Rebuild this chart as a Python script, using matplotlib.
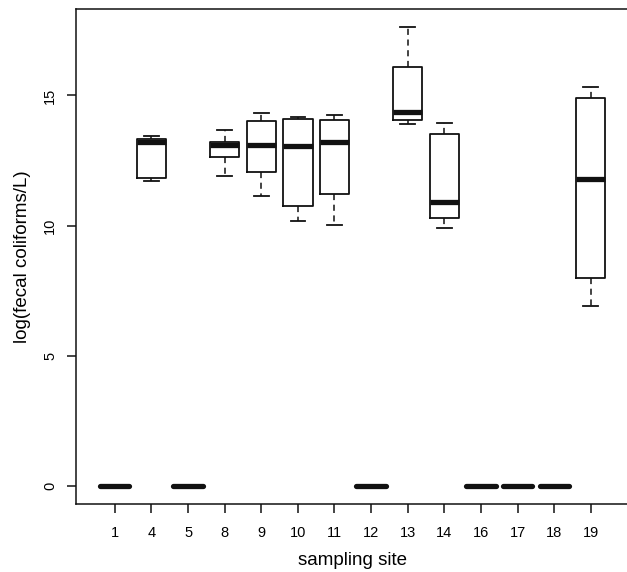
import numpy as np
import matplotlib.pyplot as plt

plt.rcParams['font.family'] = ['Liberation Sans', 'DejaVu Sans']

# sampling sites and five-number summaries of log(fecal coliforms/L)
sites = ['1', '4', '5', '8', '9', '10', '11', '12', '13', '14', '16', '17', '18', '19']
whislo = [0, 11.71, 0, 11.90, 11.14, 10.19, 10.04, 0, 13.90, 9.90, 0, 0, 0, 6.92]
q1 = [0, 11.83, 0, 12.62, 12.06, 10.75, 11.20, 0, 14.05, 10.30, 0, 0, 0, 8.00]
med = [0, 13.20, 0, 13.08, 13.11, 13.07, 13.22, 0, 14.38, 10.91, 0, 0, 0, 11.78]
q3 = [0, 13.32, 0, 13.20, 14.03, 14.08, 14.04, 0, 16.10, 13.51, 0, 0, 0, 14.90]
whishi = [0, 13.43, 0, 13.69, 14.33, 14.19, 14.26, 0, 17.62, 13.96, 0, 0, 0, 15.33]

stats = []
for i, s in enumerate(sites):
    stats.append({'label': s, 'whislo': whislo[i], 'q1': q1[i], 'med': med[i],
                  'q3': q3[i], 'whishi': whishi[i], 'fliers': []})

fig = plt.figure(figsize=(6.27, 5.72), dpi=100)
ax = fig.add_axes([76 / 627, 68 / 572, 553.6 / 627, 495 / 572])

positions = np.arange(1, len(sites) + 1)
parts = ax.bxp(stats, positions=positions, widths=0.8, showfliers=False,
               boxprops=dict(color='#111111', linewidth=1.3),
               whiskerprops=dict(color='#111111', linewidth=1.1, linestyle=(0, (4, 3))),
               capprops=dict(color='#111111', linewidth=1.3),
               medianprops=dict(color='#111111', linewidth=3.8, solid_capstyle='butt'),
               capwidths=0.4)

# collapsed boxes (all zeros) get rounded ends on the median bar
for line, lo, hi in zip(parts['medians'], q1, q3):
    if hi - lo == 0:
        line.set_solid_capstyle('round')

ymax = max(whishi)
ax.set_xlim(0.5 - 0.56, len(sites) + 0.5 + 0.56)
ax.set_ylim(-0.04 * ymax, 1.04 * ymax)

ax.set_xticks(positions)
ax.set_xticklabels(sites, fontsize=10.5)
ax.set_yticks([0, 5, 10, 15])
ax.set_yticklabels(['0', '5', '10', '15'], fontsize=10.5, rotation=90, va='center')
ax.tick_params(axis='x', length=6.5, width=1.1, color='#111111', pad=9)
ax.tick_params(axis='y', length=6.5, width=1.1, color='#111111', pad=7)

for sp in ax.spines.values():
    sp.set_linewidth(1.1)
    sp.set_color('#111111')

ax.set_xlabel('sampling site', fontsize=13.5, labelpad=9)
ax.set_ylabel('log(fecal coliforms/L)', fontsize=13.5, labelpad=9)

fig.savefig('out.png', dpi=100)
